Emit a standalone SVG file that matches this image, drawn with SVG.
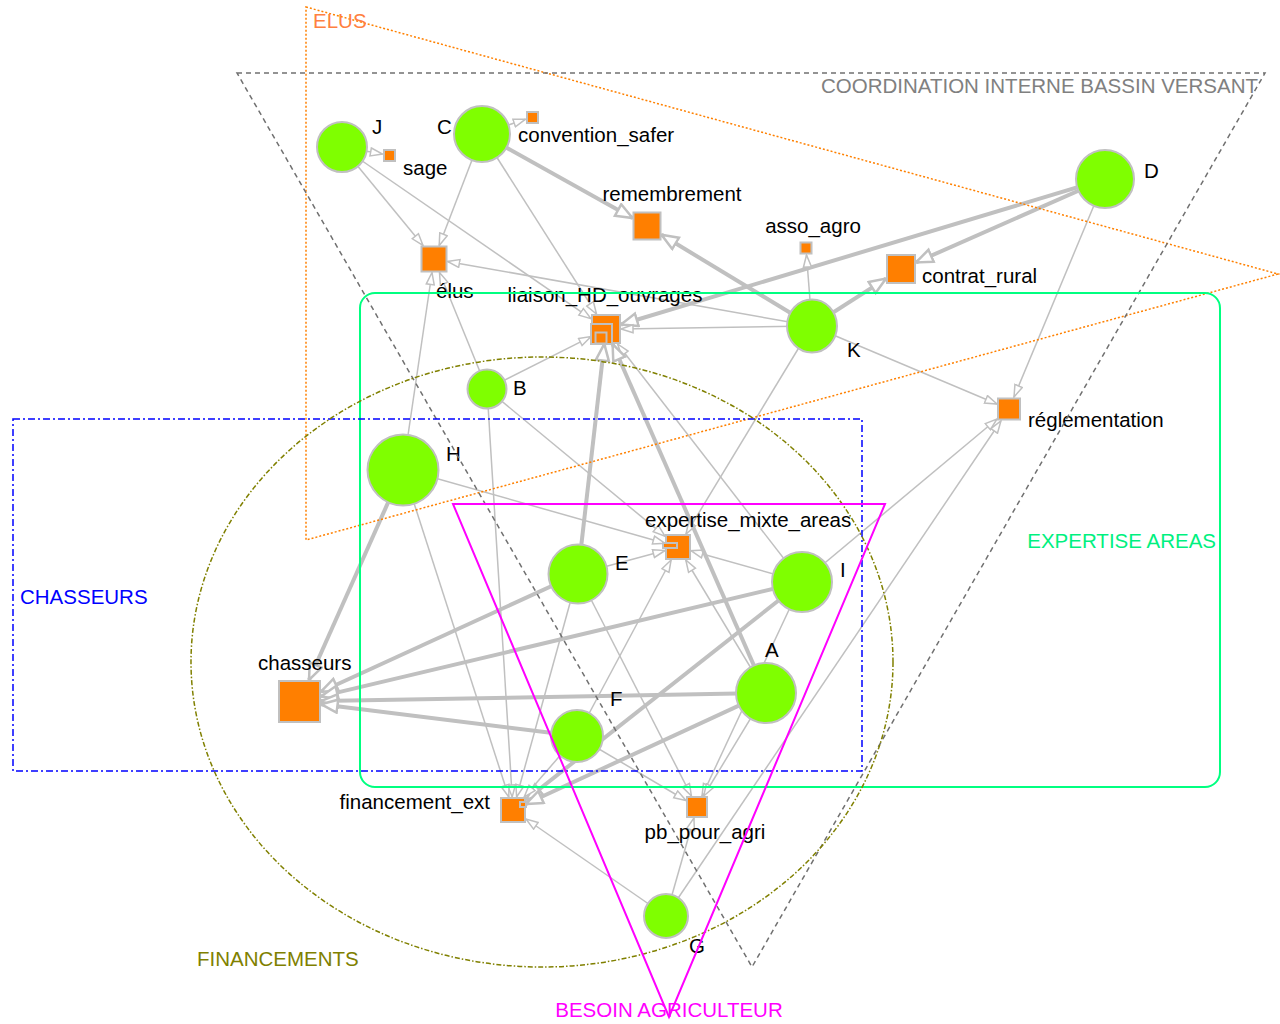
<svg xmlns="http://www.w3.org/2000/svg" width="1280" height="1024" viewBox="0 0 1280 1024">
<style>
text{font-family:"Liberation Sans",Arial,sans-serif;font-size:20.5px;fill:#000}
.e{stroke:#c0c0c0;stroke-width:1.5;fill:none;marker-end:url(#a)}
.k{stroke:#c0c0c0;stroke-width:4;fill:none;marker-end:url(#b)}
.c{fill:#7fff00;stroke:#c0c0c0;stroke-width:2}
.s{fill:#ff7f00;stroke:#c0c0c0;stroke-width:2}
.g{fill:none}
</style>
<defs>
<marker id="a" markerUnits="userSpaceOnUse" markerWidth="16" markerHeight="12" refX="13" refY="5" orient="auto">
<path d="M1,1 L13,5 L1,9 z" fill="#fff" stroke="#c0c0c0" stroke-width="1.5"/>
</marker>
<marker id="b" markerUnits="userSpaceOnUse" markerWidth="22" markerHeight="18" refX="18" refY="8" orient="auto">
<path d="M1.5,1.5 L18,8 L1.5,14.5 z" fill="#fff" stroke="#c0c0c0" stroke-width="2.5"/>
</marker>
</defs>
<rect width="1280" height="1024" fill="#fff"/>
<g id="edges">
<line class="e" x1="342" y1="147" x2="382.5" y2="154"/>
<line class="e" x1="342" y1="147" x2="423" y2="245.5"/>
<line class="e" x1="342" y1="147" x2="591" y2="318.7"/>
<line class="e" x1="482" y1="134" x2="525.5" y2="119.2"/>
<line class="e" x1="482" y1="134" x2="439.2" y2="245.5"/>
<line class="e" x1="482" y1="134" x2="596.5" y2="314"/>
<line class="k" x1="482" y1="134" x2="632.5" y2="218"/>
<line class="k" x1="1105" y1="179" x2="621" y2="324.5"/>
<line class="k" x1="1105" y1="179" x2="916" y2="262.4"/>
<line class="e" x1="1105" y1="179" x2="1014" y2="397"/>
<line class="k" x1="812" y1="326" x2="661.5" y2="234.8"/>
<line class="e" x1="812" y1="326" x2="806.5" y2="255"/>
<line class="k" x1="812" y1="326" x2="886" y2="278.6"/>
<line class="e" x1="812" y1="326" x2="447.5" y2="261.4"/>
<line class="e" x1="812" y1="326" x2="621" y2="329"/>
<line class="e" x1="812" y1="326" x2="997" y2="404"/>
<line class="e" x1="812" y1="326" x2="686" y2="534"/>
<line class="e" x1="487" y1="389" x2="439.5" y2="272.5"/>
<line class="e" x1="487" y1="389" x2="591" y2="336.6"/>
<line class="e" x1="487" y1="389" x2="665" y2="536.2"/>
<line class="e" x1="487" y1="389" x2="512.2" y2="797"/>
<line class="e" x1="403" y1="469" x2="432" y2="272.5"/>
<line class="e" x1="403" y1="469" x2="665" y2="543.3"/>
<line class="k" x1="403" y1="469" x2="309" y2="680"/>
<line class="e" x1="403" y1="469" x2="508.8" y2="797"/>
<line class="k" x1="578" y1="574" x2="604.3" y2="344"/>
<line class="e" x1="578" y1="574" x2="665" y2="550.5"/>
<line class="k" x1="578" y1="574" x2="321" y2="691.7"/>
<line class="e" x1="578" y1="574" x2="516.6" y2="797"/>
<line class="e" x1="578" y1="574" x2="691.4" y2="796"/>
<line class="e" x1="802" y1="582" x2="617.6" y2="344"/>
<line class="e" x1="802" y1="582" x2="691" y2="550.7"/>
<line class="k" x1="802" y1="582" x2="321" y2="696.4"/>
<line class="k" x1="802" y1="582" x2="526" y2="799.7"/>
<line class="e" x1="802" y1="582" x2="997" y2="419"/>
<line class="e" x1="802" y1="582" x2="702" y2="796"/>
<line class="k" x1="766" y1="693" x2="612.6" y2="344"/>
<line class="e" x1="766" y1="693" x2="685.8" y2="560"/>
<line class="k" x1="766" y1="693" x2="321" y2="701.1"/>
<line class="k" x1="766" y1="693" x2="526" y2="804"/>
<line class="e" x1="766" y1="693" x2="703.7" y2="796"/>
<line class="k" x1="577" y1="736" x2="321" y2="704.2"/>
<line class="e" x1="577" y1="736" x2="671.1" y2="560"/>
<line class="e" x1="577" y1="736" x2="524.2" y2="797"/>
<line class="e" x1="577" y1="736" x2="686" y2="800.5"/>
<line class="e" x1="666" y1="916" x2="526" y2="819"/>
<line class="e" x1="666" y1="916" x2="693.9" y2="818"/>
<line class="e" x1="666" y1="916" x2="1000.9" y2="421"/>
</g>
<g id="node-J"><circle class="c" cx="342" cy="147" r="25"/><text x="372" y="134">J</text></g>
<g id="node-C"><circle class="c" cx="482" cy="134" r="28"/><text x="437" y="134">C</text></g>
<g id="node-D"><circle class="c" cx="1105" cy="179" r="29"/><text x="1144" y="178">D</text></g>
<g id="node-K"><ellipse class="c" cx="812" cy="326" rx="25" ry="26.5"/><text x="847" y="357">K</text></g>
<g id="node-B"><circle class="c" cx="487" cy="389" r="19.5"/><text x="513" y="395">B</text></g>
<g id="node-H"><circle class="c" cx="403" cy="470" r="35.5"/><text x="446" y="461">H</text></g>
<g id="node-E"><circle class="c" cx="578" cy="574" r="29.5"/><text x="615" y="570">E</text></g>
<g id="node-I"><circle class="c" cx="802" cy="582" r="30"/><text x="840" y="577">I</text></g>
<g id="node-A"><circle class="c" cx="766" cy="693" r="30"/><text x="765" y="657">A</text></g>
<g id="node-F"><circle class="c" cx="577" cy="736" r="26"/><text x="610" y="706">F</text></g>
<g id="node-G"><circle class="c" cx="666" cy="916" r="22"/><text x="689" y="953">G</text></g>
<g id="node-sage"><rect class="s" x="384" y="150" width="11" height="11"/><text x="403" y="175">sage</text></g>
<g id="node-convention_safer"><rect class="s" x="527" y="112" width="11" height="11"/><text x="518" y="142">convention_safer</text></g>
<g id="node-elus"><rect class="s" x="421.5" y="246.5" width="25" height="25"/><text x="436" y="298">élus</text></g>
<g id="node-remembrement"><rect class="s" x="633.5" y="212.5" width="27" height="27"/><text x="672" y="201" text-anchor="middle">remembrement</text></g>
<g id="node-asso_agro"><rect class="s" x="800.5" y="242.5" width="11" height="11"/><text x="813" y="233" text-anchor="middle">asso_agro</text></g>
<g id="node-contrat_rural"><rect class="s" x="887" y="255" width="28" height="28"/><text x="922" y="283">contrat_rural</text></g>
<g id="node-liaison_HD_ouvrages"><rect class="s" x="592" y="315" width="28" height="28"/><rect class="s" x="591" y="324" width="21" height="20"/><rect class="s" x="595.5" y="332.5" width="11" height="11"/><text x="605" y="302" text-anchor="middle">liaison_HD_ouvrages</text></g>
<g id="node-reglementation"><rect class="s" x="998" y="398.5" width="22" height="21"/><text x="1028" y="427">réglementation</text></g>
<g id="node-expertise_mixte_areas"><rect class="s" x="666" y="535" width="24" height="24"/><rect class="s" x="663" y="543" width="14" height="5" stroke-width="1.5"/><text x="645" y="527">expertise_mixte_areas</text></g>
<g id="node-chasseurs"><rect class="s" x="279" y="681" width="41" height="41"/><text x="258" y="670">chasseurs</text></g>
<g id="node-financement_ext"><rect class="s" x="501" y="798" width="24" height="24"/><rect class="s" x="520" y="802" width="6" height="5" stroke-width="1.2"/><text x="490" y="809" text-anchor="end">financement_ext</text></g>
<g id="node-pb_pour_agri"><rect class="s" x="687" y="797" width="20" height="20"/><text x="705" y="839" text-anchor="middle">pb_pour_agri</text></g>
<g id="groups">
<polygon class="g" points="306,7 1278,274 306,540" stroke="#ff8000" stroke-width="1.5" stroke-dasharray="2,2"/>
<text x="313" y="28" style="fill:#ff8040">ELUS</text>
<polygon class="g" points="237,73 1265,73 752,967" stroke="#707070" stroke-width="1.5" stroke-dasharray="5,4"/>
<text x="1258" y="93" text-anchor="end" style="fill:#808080">COORDINATION INTERNE BASSIN VERSANT</text>
<rect class="g" x="360" y="293" width="860" height="494" rx="15" stroke="#00ff80" stroke-width="2"/>
<text x="1216" y="548" text-anchor="end" style="fill:#00f07f">EXPERTISE AREAS</text>
<rect class="g" x="13" y="419" width="849" height="352" stroke="#0000ff" stroke-width="1.5" stroke-dasharray="7,3,2,3"/>
<text x="20" y="604" style="fill:#0000ff">CHASSEURS</text>
<ellipse class="g" cx="542" cy="662" rx="351" ry="305" stroke="#808000" stroke-width="1.5" stroke-dasharray="5,2,1.5,2"/>
<text x="197" y="966" style="fill:#808000">FINANCEMENTS</text>
<polygon class="g" points="453,504 885,504 669,1017" stroke="#ff00ff" stroke-width="2"/>
<text x="669" y="1017" text-anchor="middle" style="fill:#ff00ff">BESOIN AGRICULTEUR</text>
</g>
</svg>
